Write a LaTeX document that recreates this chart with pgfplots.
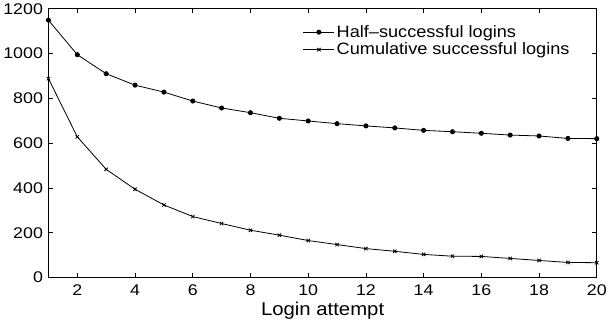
\documentclass[border=0pt]{standalone}
\usepackage{fontspec}
\setmainfont{Liberation Sans}
\usepackage{graphicx}
\usepackage{pgfplots}
\pgfplotsset{compat=1.18}
\newcommand{\stx}[1]{\scalebox{1.15}[1]{#1}}
\newcommand{\stl}[1]{\scalebox{1.1}[1]{#1}}
\begin{document}
\begin{tikzpicture}
\begin{axis}[
  width=549pt, height=269pt, scale only axis,
  xmin=1, xmax=20, ymin=0, ymax=1200,
  xtick={2,4,...,20}, ytick={0,200,...,1200},
  xticklabels={\stx{2},\stx{4},\stx{6},\stx{8},\stx{10},\stx{12},\stx{14},\stx{16},\stx{18},\stx{20}},
  yticklabels={\stx{0},\stx{200},\stx{400},\stx{600},\stx{800},\stx{1000},\stx{1200}},
  tick align=inside, major tick length=4.5pt,
  tick label style={font=\fontsize{15.5}{17}\selectfont},
  yticklabel style={xshift=-2pt},
  xticklabel style={yshift=-4pt},
  xlabel={\stl{Login attempt}},
  xlabel style={font=\fontsize{18.5}{20}\selectfont, yshift=1pt},
  axis line style={line width=0.9pt},
  every tick/.style={line width=0.7pt, black},
  legend style={draw=none, fill=none, at={(0.462,0.95)}, anchor=north west,
    font=\fontsize{16.5}{18}\selectfont, row sep=0pt, inner sep=1pt},
  legend cell align=left,
  legend image code/.code={\draw[mark repeat=2,mark phase=2,#1] plot coordinates {(0pt,0pt)(15.5pt,0pt)(31pt,0pt)};},
]
\addplot[black, line width=0.8pt, mark=*, mark size=2.1pt, mark options={solid, fill=black}] coordinates {
(1,1149)(2,995)(3,910)(4,859)(5,828)(6,788)(7,757)(8,736)(9,711)(10,699)
(11,687)(12,677)(13,668)(14,657)(15,651)(16,644)(17,636)(18,632)(19,621)(20,620)};
\addlegendentry{\stl{Half\textendash successful logins}}
\addplot[black, line width=0.8pt, mark=x, mark size=2.4pt, mark options={solid}] coordinates {
(1,888)(2,628)(3,483)(4,394)(5,324)(6,272)(7,241)(8,211)(9,189)(10,165)
(11,147)(12,129)(13,117)(14,103)(15,95)(16,94)(17,85)(18,76)(19,67)(20,66)};
\addlegendentry{\stl{Cumulative successful logins}}
\end{axis}
\end{tikzpicture}
\end{document}
